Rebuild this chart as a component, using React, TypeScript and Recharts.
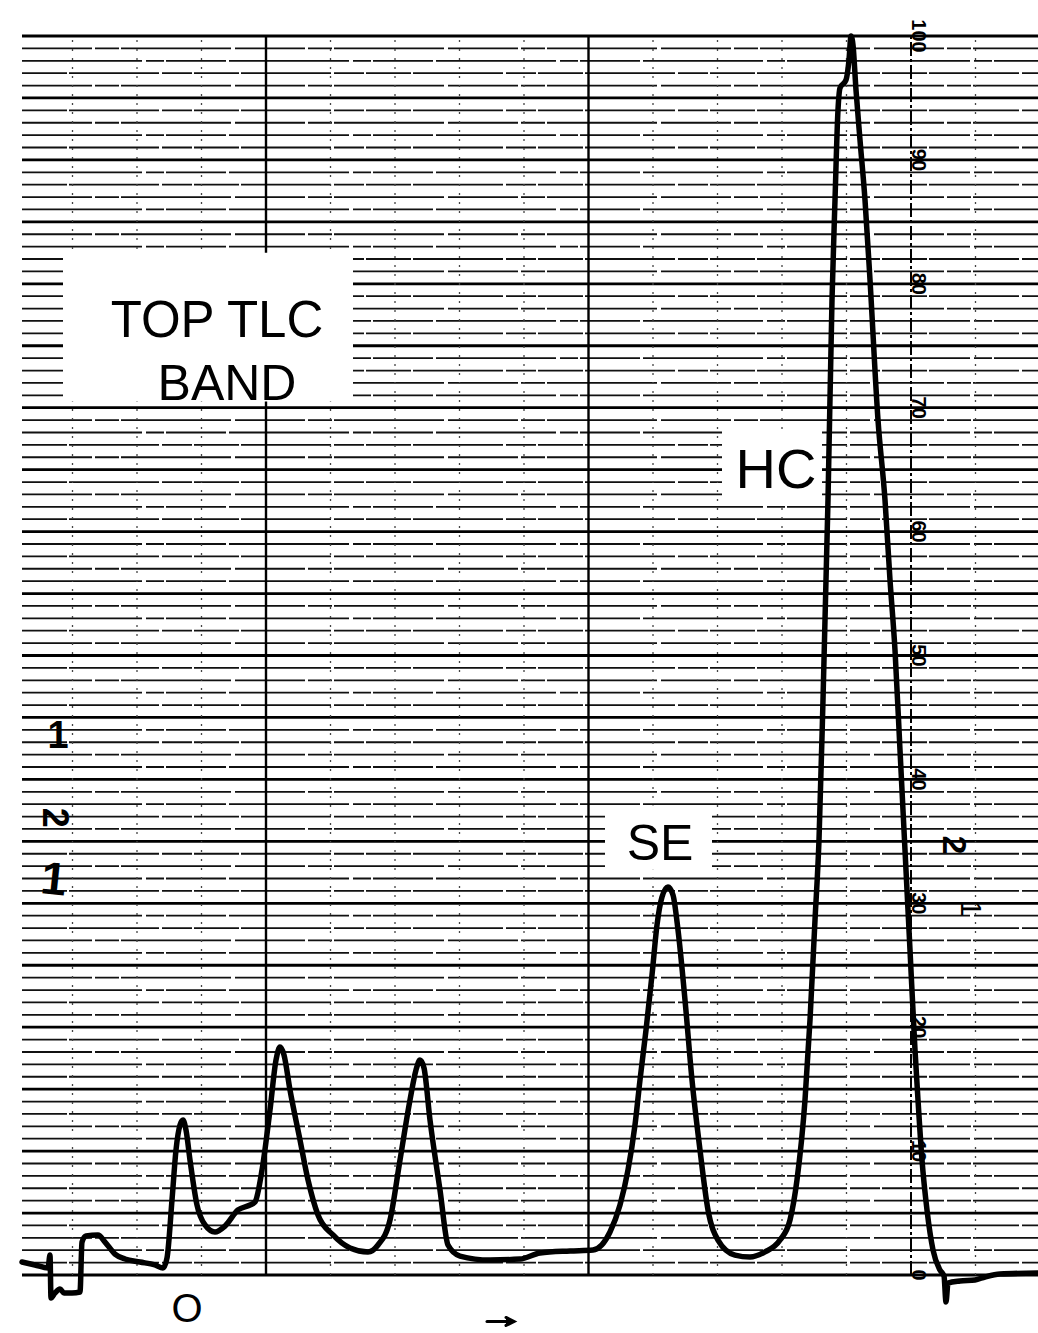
import React from "react";
import {
  LineChart,
  Line,
  XAxis,
  YAxis,
  CartesianGrid,
  ReferenceLine,
  ReferenceArea,
  ReferenceDot,
} from "recharts";

const W = 1038;
const H = 1333;
const FONT = "'Liberation Sans', Arial, Helvetica, sans-serif";

// chart travel (arbitrary units, 1 unit = 1 mm of paper roughly)
const distance = [
  0, 1.3, 2.6, 2.8, 2.9, 3.3, 3.8, 4.2, 5.0, 5.8, 6.0, 6.4, 7.6, 8.3, 9.3, 10.3,
  11.8, 13.3, 14.1, 14.5, 15.0, 15.4, 15.8, 16.1, 16.4, 16.8, 17.5, 18.3, 19.3,
  20.3, 21.6, 22.8, 23.3, 24.0, 24.8, 25.4, 25.8, 26.2, 26.8, 27.8, 28.6, 29.6,
  31.1, 32.8, 34.6, 35.6, 36.8, 37.8, 38.8, 39.4, 39.8, 40.2, 40.8, 41.8, 42.6,
  43.8, 46.8, 49.8, 51.8, 54.8, 57.1, 58.8, 59.8, 60.6, 61.3, 61.8, 62.4, 63.0,
  63.5, 64.0, 64.6, 65.1, 65.6, 66.3, 67.0, 67.8, 68.6, 69.6, 71.3, 72.8, 74.3,
  75.8, 76.8, 77.5, 78.3, 78.8, 79.3, 79.7, 80.1, 80.6, 81.0, 81.3, 81.6, 81.8,
  82.4, 82.7, 82.9, 83.1, 83.4, 83.8, 84.3, 84.8, 85.6, 86.3, 86.8, 87.3, 87.8,
  88.3, 88.8, 89.3, 89.6, 90.0, 90.5, 91.1, 91.8, 92.2, 92.4, 92.6, 93.8, 95.3,
  96.3, 97.8, 101.6,
];

// pen deflection, % of full scale
const response = [
  1.05, 0.81, 0.56, 1.61, -1.86, -1.45, -1.13, -1.45, -1.45, -1.37, 2.66, 3.15,
  3.23, 2.66, 1.69, 1.29, 1.05, 0.81, 0.56, 1.37, 6.05, 10.09, 12.11, 12.51,
  11.7, 9.28, 5.65, 4.04, 3.47, 3.95, 5.25, 5.65, 5.89, 8.47, 13.32, 17.35,
  18.4, 17.76, 14.93, 10.9, 7.67, 4.84, 3.23, 2.18, 1.86, 2.42, 4.44, 9.28,
  14.12, 16.55, 17.35, 16.71, 12.51, 6.86, 2.42, 1.53, 1.21, 1.29, 1.78, 1.94,
  2.02, 3.47, 5.65, 8.47, 12.11, 15.74, 19.77, 24.21, 28.25, 30.51, 31.32,
  30.67, 27.85, 22.2, 15.74, 10.09, 5.25, 2.82, 1.61, 1.45, 1.86, 2.82, 4.44,
  7.67, 14.12, 20.58, 28.65, 35.11, 46.41, 62.55, 78.69, 86.76, 94.03, 95.8,
  96.45, 98.06, 100.0, 99.27, 95.64, 91.61, 86.76, 80.31, 69.01, 62.55, 56.09,
  50.44, 42.37, 34.3, 26.23, 18.16, 14.12, 9.28, 5.25, 2.02, 0.4, -0.08, -2.18,
  -0.65, -0.48, -0.4, -0.16, 0.08, 0.16,
];

const trace = distance.map((x, i) => ({ x, y: response[i] }));

// recorder paper
const rowLines = Array.from({ length: 101 }, (_, i) => i);
const majorRows = rowLines.filter((v) => v % 5 === 0);
const minorRowGroups = [0, 1, 2].map((g) =>
  rowLines.filter((v) => v % 5 !== 0 && v % 3 === g)
);
const rowDash = ["70 3 24 2 110 4", "45 2 90 3 30 2", "120 4 18 2 60 3"];
const minorCols = [5.05, 11.5, 17.95, 30.85, 37.3, 43.75, 50.2, 63.1, 69.55, 76.0, 82.45, 95.35];
const majorCols = [24.4, 56.65];
const scaleCol = 88.9;
const scaleTicks = [0, 10, 20, 30, 40, 50, 60, 70, 80, 90, 100];

// white label patches
const boxes = [
  { x1: 4.1, x2: 33.1, y1: 70.5, y2: 82.5 },
  { x1: 70.0, x2: 80.0, y1: 62.4, y2: 68.2 },
  { x1: 58.3, x2: 69.0, y1: 32.7, y2: 37.9 },
];

const notes = [
  { text: "TOP TLC", x: 19.5, y: 77.1, size: 51, rot: 0, bold: false },
  { text: "BAND", x: 20.5, y: 72.0, size: 50, rot: 0, bold: false },
  { text: "HC", x: 75.4, y: 65.1, size: 56, rot: 0, bold: false },
  { text: "SE", x: 63.8, y: 34.9, size: 50, rot: 0, bold: false },
  { text: "O", x: 16.5, y: -2.7, size: 40, rot: 0, bold: false },
  { text: "1", x: 3.6, y: 43.6, size: 38, rot: 0, bold: true },
  { text: "2", x: 3.3, y: 36.9, size: 36, rot: 90, bold: true },
  { text: "1", x: 3.2, y: 32.0, size: 46, rot: 6, bold: true },
  { text: "2", x: 93.3, y: 34.7, size: 34, rot: 90, bold: true },
  { text: "1", x: 94.9, y: 29.6, size: 30, rot: 90, bold: false },
];

// direction-of-run arrow under the trace
const runArrow = { x: 47.9, y: -3.75 };

const textShape = (label: string, size: number, rot: number, bold = false) => (p: any) => (
  <text
    x={p.cx}
    y={p.cy}
    textAnchor="middle"
    dominantBaseline="central"
    fontFamily={FONT}
    fontSize={size}
    fontWeight={bold ? 700 : 400}
    fill="#000"
    transform={rot ? `rotate(${rot} ${p.cx} ${p.cy})` : undefined}
  >
    {label}
  </text>
);

const arrowShape = (p: any) => (
  <g fill="none" stroke="#000" strokeWidth={3} strokeLinecap="round">
    <path d={`M${p.cx - 14},${p.cy} L${p.cx + 12},${p.cy}`} />
    <path d={`M${p.cx + 5},${p.cy - 4} L${p.cx + 13},${p.cy} L${p.cx + 5},${p.cy + 4}`} fill="#000" />
  </g>
);

export default function App() {
  return (
    <div style={{ position: "absolute", left: 0, top: 0, width: W, height: H, background: "#fff" }}>
      <LineChart
        width={W}
        height={H}
        data={trace}
        margin={{ top: 36, right: 0, bottom: 23, left: 22 }}
        style={{ overflow: "visible" }}
      >
        <XAxis dataKey="x" type="number" domain={[0, 101.6]} hide />
        <YAxis type="number" domain={[-2.825, 100]} hide />
        {minorRowGroups.map((vals, g) => (
          <CartesianGrid
            key={"g" + g}
            vertical={false}
            horizontalValues={vals}
            stroke="#111"
            strokeWidth={1.8}
            strokeDasharray={rowDash[g]}
          />
        ))}
        <CartesianGrid vertical={false} horizontalValues={majorRows} stroke="#000" strokeWidth={2.8} />
        {minorCols.map((c) => (
          <ReferenceLine
            key={"c" + c}
            segment={[{ x: c, y: 0 }, { x: c, y: 100 }]}
            stroke="#444"
            strokeWidth={1.3}
            strokeDasharray="2 7"
            zIndex={-60}
          />
        ))}
        {majorCols.map((c) => (
          <ReferenceLine
            key={"m" + c}
            segment={[{ x: c, y: 0 }, { x: c, y: 100 }]}
            stroke="#000"
            strokeWidth={2.4}
            zIndex={-60}
          />
        ))}
        <ReferenceLine
          segment={[{ x: scaleCol, y: 0 }, { x: scaleCol, y: 100 }]}
          stroke="#000"
          strokeWidth={2}
          strokeDasharray="14 3 3 3"
          zIndex={-60}
        />
        {boxes.map((b, i) => (
          <ReferenceArea
            key={"b" + i}
            x1={b.x1}
            x2={b.x2}
            y1={b.y1}
            y2={b.y2}
            fill="#fff"
            fillOpacity={1}
            stroke="none"
            zIndex={-40}
          />
        ))}
        <Line
          type="monotone"
          dataKey="y"
          stroke="#000"
          strokeWidth={5.5}
          strokeLinejoin="round"
          strokeLinecap="round"
          dot={false}
          activeDot={false}
          isAnimationActive={false}
        />
        {scaleTicks.map((t) => (
          <ReferenceDot
            key={"t" + t}
            x={89.7}
            y={t}
            r={0}
            ifOverflow="visible"
            zIndex={700}
            shape={textShape(String(t), 20, 90, true)}
          />
        ))}
        {notes.map((n, i) => (
          <ReferenceDot
            key={"n" + i}
            x={n.x}
            y={n.y}
            r={0}
            ifOverflow="visible"
            zIndex={700}
            shape={textShape(n.text, n.size, n.rot, n.bold)}
          />
        ))}
        <ReferenceDot
          x={runArrow.x}
          y={runArrow.y}
          r={0}
          ifOverflow="visible"
          zIndex={700}
          shape={arrowShape}
        />
      </LineChart>
    </div>
  );
}
